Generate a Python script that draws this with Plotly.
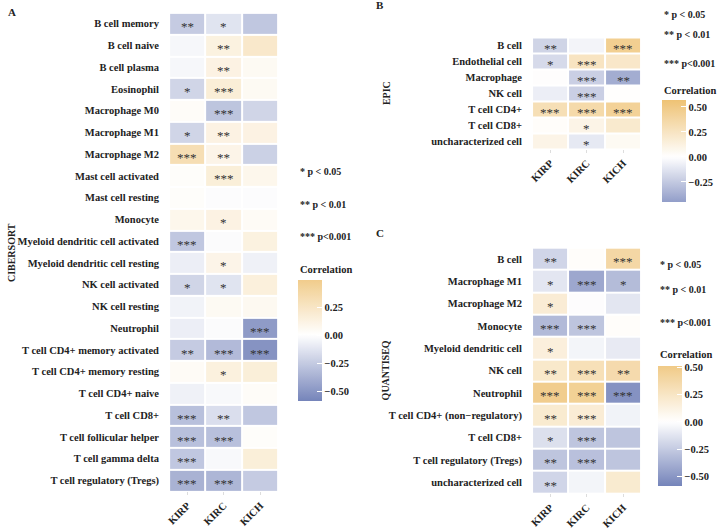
import plotly.graph_objects as go

W, H = 719, 530
FONT = "Liberation Serif"

cohorts = ["KIRP", "KIRC", "KICH"]

# ---- Panel A : CIBERSORT ----
cib_cells = ["B cell memory", "B cell naive", "B cell plasma", "Eosinophil", "Macrophage M0",
             "Macrophage M1", "Macrophage M2", "Mast cell activated", "Mast cell resting",
             "Monocyte", "Myeloid dendritic cell activated", "Myeloid dendritic cell resting",
             "NK cell activated", "NK cell resting", "Neutrophil",
             "T cell CD4+ memory activated", "T cell CD4+ memory resting", "T cell CD4+ naive",
             "T cell CD8+", "T cell follicular helper", "T cell gamma delta",
             "T cell regulatory (Tregs)"]
cib_kirp = [-0.25, -0.04, -0.04, -0.20, 0.03, -0.20, 0.32, 0.02, 0.02, 0.08, -0.27, -0.08,
            -0.20, -0.06, -0.08, -0.25, 0.04, -0.07, -0.30, -0.30, -0.27, -0.37]
cib_kirc = [-0.13, 0.13, 0.12, 0.17, -0.28, 0.12, 0.10, 0.16, -0.01, 0.12, -0.02, 0.10,
            -0.13, 0.05, -0.02, -0.33, 0.14, -0.03, -0.16, -0.30, -0.03, -0.35]
cib_kich = [-0.27, 0.22, 0.05, 0.05, -0.20, 0.12, -0.22, 0.08, -0.01, 0.04, 0.13, -0.07,
            0.15, 0.06, -0.48, -0.52, 0.16, 0.03, -0.27, 0.02, 0.16, -0.25]
cib_sig_kirp = ["**", "", "", "*", "", "*", "***", "", "", "", "***", "", "*", "", "", "**",
                "", "", "***", "***", "***", "***"]
cib_sig_kirc = ["*", "**", "**", "***", "***", "**", "**", "***", "", "*", "", "*", "*", "", "",
                "***", "*", "", "**", "***", "", "***"]
cib_sig_kich = ["", "", "", "", "", "", "", "", "", "", "", "", "", "", "***", "***",
                "", "", "", "", "", ""]
cib_limits = [-0.59, 0.49]
cib_ticks = [0.25, 0.0, -0.25, -0.5]

# ---- Panel B : EPIC ----
epic_cells = ["B cell", "Endothelial cell", "Macrophage", "NK cell", "T cell CD4+",
              "T cell CD8+", "uncharacterized cell"]
epic_kirp = [-0.20, -0.17, 0.00, -0.08, 0.30, 0.02, 0.10]
epic_kirc = [-0.05, 0.25, -0.22, -0.22, 0.35, 0.10, -0.10]
epic_kich = [0.45, 0.22, -0.38, 0.01, 0.42, 0.20, 0.05]
epic_sig_kirp = ["**", "*", "", "", "***", "", ""]
epic_sig_kirc = ["", "***", "***", "***", "***", "*", "*"]
epic_sig_kich = ["***", "", "**", "", "***", "", ""]
epic_limits = [-0.45, 0.57]
epic_ticks = [0.5, 0.25, 0.0, -0.25]

# ---- Panel C : QUANTISEQ ----
quan_cells = ["B cell", "Macrophage M1", "Macrophage M2", "Monocyte", "Myeloid dendritic cell",
              "NK cell", "Neutrophil", "T cell CD4+ (non\u2212regulatory)", "T cell CD8+",
              "T cell regulatory (Tregs)", "uncharacterized cell"]
quan_kirp = [-0.20, -0.12, 0.18, -0.33, 0.15, 0.22, 0.48, 0.20, -0.15, -0.28, -0.20]
quan_kirc = [0.02, -0.42, 0.00, -0.28, -0.05, 0.30, 0.45, 0.18, -0.28, -0.30, -0.05]
quan_kich = [0.38, -0.32, -0.12, 0.02, -0.10, 0.35, -0.52, -0.06, -0.28, -0.28, 0.20]
quan_sig_kirp = ["**", "*", "*", "***", "*", "**", "***", "**", "*", "**", "**"]
quan_sig_kirc = ["", "***", "", "***", "", "***", "***", "***", "***", "***", ""]
quan_sig_kich = ["***", "*", "", "", "", "**", "***", "", "", "", ""]
quan_limits = [-0.59, 0.51]
quan_ticks = [0.5, 0.25, 0.0, -0.25, -0.5]

sig_labels = ["* p < 0.05", "** p < 0.01", "*** p<0.001"]

LOW = (0x75, 0x84, 0xBA)
MID = (0xFF, 0xFF, 0xFF)
HIGH = (0xEE, 0xC2, 0x74)


def color_at(v, L):
    t = max(-1.0, min(1.0, v / L))
    end = HIGH if t >= 0 else LOW
    a = abs(t)
    c = [round(MID[i] + (end[i] - MID[i]) * a) for i in range(3)]
    return "rgb(%d,%d,%d)" % tuple(c)


def make_scale(lo, hi):
    L = max(abs(lo), abs(hi))
    n = 40
    return [[i / n, color_at(lo + (hi - lo) * i / n, L)] for i in range(n + 1)]


def px2x(p):
    return p / W


def px2y(p):
    return 1 - p / H


fig = go.Figure()

panels = [
    dict(cells=cib_cells, vals=[cib_kirp, cib_kirc, cib_kich],
         sig=[cib_sig_kirp, cib_sig_kirc, cib_sig_kich], lim=cib_limits, ticks=cib_ticks,
         box=(167, 277, 13, 498), cb=(297, 285, 406), name="CIBERSORT", letter="A",
         letter_pos=(3, 12), leg=(297, [174, 207, 240], 273), title_x=8),
    dict(cells=epic_cells, vals=[epic_kirp, epic_kirc, epic_kich],
         sig=[epic_sig_kirp, epic_sig_kirc, epic_sig_kich], lim=epic_limits, ticks=epic_ticks,
         box=(532, 642, 38, 151), cb=(663, 102, 204), name="EPIC", letter="B",
         letter_pos=(373, 5), leg=(663, [15, 35, 64], 92), title_x=385),
    dict(cells=quan_cells, vals=[quan_kirp, quan_kirc, quan_kich],
         sig=[quan_sig_kirp, quan_sig_kirc, quan_sig_kich], lim=quan_limits, ticks=quan_ticks,
         box=(532, 642, 251, 500), cb=(659, 372, 492), name="QUANTISEQ", letter="C",
         letter_pos=(373, 236), leg=(659, [268, 293, 327], 359), title_x=385),
]

annotations = []
for k, p in enumerate(panels):
    ax = "" if k == 0 else str(k + 1)
    n = len(p["cells"])
    z = [[p["vals"][j][i] for j in range(3)] for i in range(n)]
    x0, x1, y0, y1 = p["box"]
    cbx, cby0, cby1 = p["cb"]
    fig.add_trace(go.Heatmap(
        z=z, x=cohorts, y=p["cells"], xaxis="x" + ax, yaxis="y" + ax,
        zmin=p["lim"][0], zmax=p["lim"][1], colorscale=make_scale(*p["lim"]),
        xgap=2, ygap=2, hoverinfo="skip",
        colorbar=dict(
            x=px2x(cbx), xanchor="left", y=px2y((cby0 + cby1) / 2), yanchor="middle",
            lenmode="pixels", len=cby1 - cby0, thickness=24, thicknessmode="pixels",
            outlinewidth=0, xpad=0, ypad=0,
            tickvals=p["ticks"],
            ticktext=[("%.2f" % t).replace("-", "\u2212") for t in p["ticks"]],
            ticks="inside", ticklen=5, tickcolor="white", tickwidth=1,
            tickfont=dict(family=FONT, size=10.5, color="#222", weight="bold"),
        ),
    ))
    fig.update_layout(**{
        "xaxis" + ax: dict(domain=[px2x(x0), px2x(x1)], range=[-0.5, 2.5], anchor="y" + ax,
                           tickangle=-45, ticks="outside", ticklen=3, tickcolor="#dddddd",
                           tickfont=dict(family=FONT, size=10.5, color="#222", weight="bold"),
                           showgrid=False, zeroline=False, showline=False, fixedrange=True),
        "yaxis" + ax: dict(domain=[px2y(y1), px2y(y0)], range=[n - 0.5, -0.5], anchor="x" + ax,
                           ticks="outside", ticklen=7, tickcolor="rgba(0,0,0,0)",
                           tickfont=dict(family=FONT, size=10.5, color="#222", weight="bold"),
                           showgrid=False, zeroline=False, showline=False, fixedrange=True),
    })
    # significance stars
    for i in range(n):
        for j in range(3):
            s = p["sig"][j][i]
            if s:
                annotations.append(dict(x=cohorts[j], y=p["cells"][i], xref="x" + ax,
                                        yref="y" + ax, text=s, showarrow=False, yshift=-3,
                                        font=dict(family=FONT, size=13, color="#333333")))
    # panel title (vertical)
    annotations.append(dict(x=px2x(p["title_x"]), y=px2y((y0 + y1) / 2), xref="paper",
                            yref="paper", text=p["name"], textangle=-90, showarrow=False,
                            xanchor="center", yanchor="middle",
                            font=dict(family=FONT, size=10, color="#222", weight="bold")))
    # letter
    annotations.append(dict(x=px2x(p["letter_pos"][0]), y=px2y(p["letter_pos"][1]), xref="paper",
                            yref="paper", text=p["letter"], showarrow=False, xanchor="left",
                            yanchor="middle",
                            font=dict(family=FONT, size=11, color="#222", weight="bold")))
    # significance legend
    lx, lys, cy = p["leg"]
    for lab, ly in zip(sig_labels, lys):
        annotations.append(dict(x=px2x(lx), y=px2y(ly), xref="paper", yref="paper", text=lab,
                                showarrow=False, xanchor="left", yanchor="middle",
                                font=dict(family=FONT, size=10, color="#222", weight="bold")))
    annotations.append(dict(x=px2x(lx), y=px2y(cy), xref="paper", yref="paper",
                            text="Correlation", showarrow=False, xanchor="left", yanchor="middle",
                            font=dict(family=FONT, size=10.5, color="#222", weight="bold")))

fig.update_layout(width=W, height=H, margin=dict(l=0, r=0, t=0, b=0),
                  paper_bgcolor="white", plot_bgcolor="white", showlegend=False,
                  annotations=annotations)

fig.write_html("out.html", config={"displayModeBar": False},
               post_script="document.body.style.margin='0';document.body.style.padding='0';")
